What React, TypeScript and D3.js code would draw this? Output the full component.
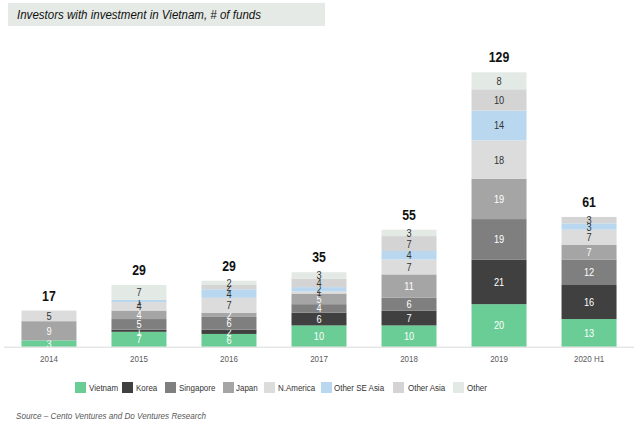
import React from "react";
import * as d3 from "d3";

const years = ["2014", "2015", "2016", "2017", "2018", "2019", "2020 H1"];
const seriesNames = ["Vietnam", "Korea", "Singapore", "Japan", "N.America", "Other SE Asia", "Other Asia", "Other"];
const seriesColors = ["#6acd96", "#404040", "#7f7f7f", "#a5a5a5", "#dcdcdc", "#b9d7ef", "#d4d4d4", "#e3e9e5"];
const labelColors = ["#ffffff", "#ffffff", "#ffffff", "#ffffff", "#333333", "#333333", "#333333", "#333333"];

const vietnam = [3, 7, 6, 10, 10, 20, 13];
const korea = [0, 1, 2, 6, 7, 21, 16];
const singapore = [0, 5, 6, 4, 6, 19, 12];
const japan = [9, 4, 2, 5, 11, 19, 7];
const nAmerica = [5, 4, 7, 1, 7, 18, 7];
const otherSEAsia = [0, 1, 4, 2, 4, 14, 3];
const otherAsia = [0, 0, 2, 4, 7, 10, 3];
const other = [0, 7, 2, 3, 3, 8, 0];
const totals = [17, 29, 29, 35, 55, 129, 61];

const legendBoxX = [75, 122, 165, 223, 264, 321, 393, 453];
const legendTextX = [89, 136, 179, 236, 278, 334, 408, 467];

const FONT = "'Liberation Sans', Arial, Helvetica, sans-serif";
const SX = 0.84;

function T(props: { x: number; y: number; sx?: number; children: any; [k: string]: any }) {
  const { x, y, sx = SX, children, ...rest } = props;
  return (
    <g transform={`translate(${x},${y}) scale(${sx},1)`}>
      <text x={0} y={0} {...rest}>
        {children}
      </text>
    </g>
  );
}

export default function App() {
  const W = 640, H = 437;
  const seriesData = [vietnam, korea, singapore, japan, nAmerica, otherSEAsia, otherAsia, other];
  const rows = years.map((y, i) => {
    const r: any = { year: y };
    seriesNames.forEach((s, k) => (r[s] = seriesData[k][i]));
    return r;
  });
  const stack = d3.stack<any>().keys(seriesNames)(rows);

  const x = d3.scaleBand().domain(years).range([4, 634]).paddingInner(0.389).paddingOuter(0.194);
  const baseY = 346.7;
  const y = d3.scaleLinear().domain([0, 129]).range([baseY, 72.3]);

  return (
    <svg width={W} height={H} style={{ position: "absolute", left: 0, top: 0, fontFamily: FONT }}>
      <rect x={8} y={3} width={317} height={23} fill="#e5eae6" />
      <text x={17} y={19} fontSize={13} fontStyle="italic" fill="#111" textLength={244} lengthAdjust="spacingAndGlyphs">
        Investors with investment in Vietnam, # of funds
      </text>
      {stack.map((layer, k) => (
        <g key={seriesNames[k]}>
          {layer.map((d, i) => {
            const v = d[1] - d[0];
            if (v <= 0) return null;
            const x0 = x(years[i])!;
            const yTop = y(d[1]);
            const yBot = y(d[0]);
            return (
              <g key={i}>
                <rect x={x0} y={yTop} width={x.bandwidth()} height={yBot - yTop} fill={seriesColors[k]} />
                <T x={x0 + x.bandwidth() / 2} y={(yTop + yBot) / 2 + 4} textAnchor="middle" fontSize={11} fill={labelColors[k]}>
                  {v}
                </T>
              </g>
            );
          })}
        </g>
      ))}
      {years.map((yr, i) => {
        const top = y(stack[stack.length - 1][i][1]);
        return (
          <T key={yr} x={x(yr)! + x.bandwidth() / 2} y={top - 10} textAnchor="middle" fontSize={15} fontWeight="bold" fill="#111" sx={0.82}>
            {totals[i]}
          </T>
        );
      })}
      <line x1={4} x2={634} y1={baseY + 0.5} y2={baseY + 0.5} stroke="#d9d9d9" strokeWidth={1} />
      {years.map((yr) => (
        <T key={yr} x={x(yr)! + x.bandwidth() / 2} y={362} textAnchor="middle" fontSize={9.5} fill="#595959">
          {yr}
        </T>
      ))}
      {seriesNames.map((s, k) => (
        <g key={s}>
          <rect x={legendBoxX[k]} y={382} width={11} height={11} fill={seriesColors[k]} />
          <T x={legendTextX[k]} y={391} fontSize={9.5} fill="#333">
            {s}
          </T>
        </g>
      ))}
      <text x={16} y={419} fontSize={9.5} fontStyle="italic" fill="#595959" textLength={190} lengthAdjust="spacingAndGlyphs">
        Source – Cento Ventures and Do Ventures Research
      </text>
    </svg>
  );
}
